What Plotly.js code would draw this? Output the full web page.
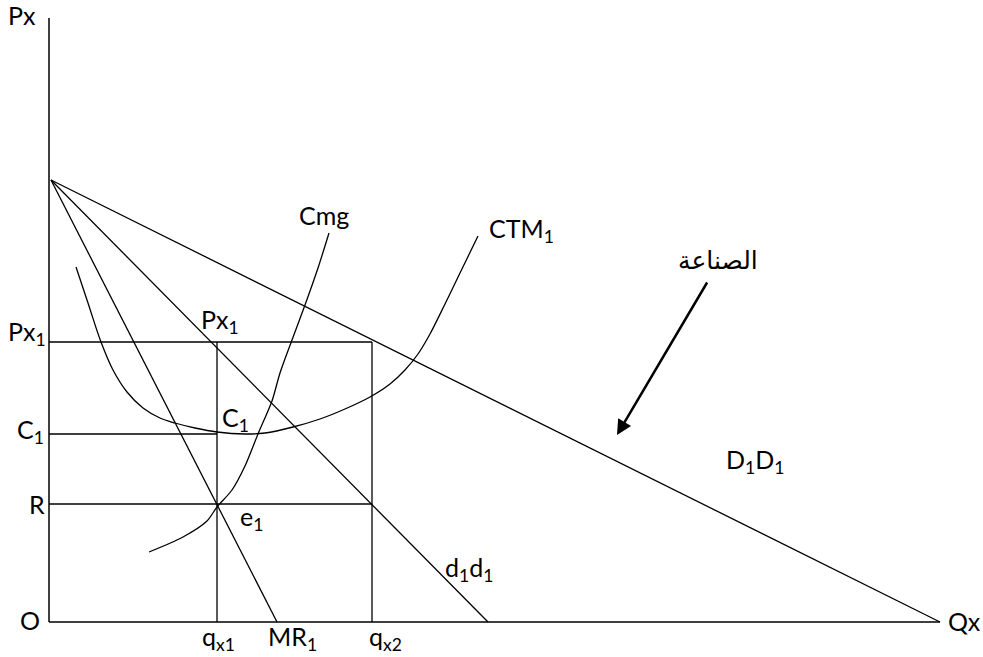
<!DOCTYPE html>
<html>
<head>
<meta charset="utf-8">
<script src="https://cdn.plot.ly/plotly-3.0.1.min.js"></script>
<style>html,body{margin:0;padding:0;background:#fff;}#chart{width:983px;height:657px;}</style>
</head>
<body>
<div id="chart"></div>
<script>
// Diagram coordinates: origin O at (0,0)
const apex = [2, 442];
const demandIndustryEnd = [891, 0];   // D1D1
const demandFirmEnd = [439, 0];       // d1d1
const marginalRevenueEnd = [228, 0];  // MR1
const priceLevels = {Px1: 280, C1: 188, R: 118};
const quantityLevels = {qx1: 168, qx2: 323};
const axisTop = 604;
const axisRight = 891;

const ctmX = [27, 39, 52, 64, 78, 94, 111, 126, 146, 168, 196, 216, 244, 271, 296, 321, 341, 356, 369, 381, 396, 411, 429];
const ctmY = [355, 319, 280, 252, 230, 214, 204, 199, 194, 190, 188, 189, 195, 203, 213, 225, 238, 252, 268, 288, 318, 349, 386];
const cmgX = [100, 134, 158, 168, 183, 196, 209, 223, 231, 243, 256, 269, 280];
const cmgY = [70, 85, 101, 115, 132, 156, 188, 221, 249, 282, 317, 354, 389];

const arrowTail = [659, 341];
const arrowTip = [568, 187];

const labelTexts = ['Px', 'Px<sub>1</sub>', 'C<sub>1</sub>', 'R', 'O', 'q<sub>x1</sub>', 'MR<sub>1</sub>', 'q<sub>x2</sub>', 'Qx',
  'Px<sub>1</sub>', 'C<sub>1</sub>', 'e<sub>1</sub>', 'd<sub>1</sub>d<sub>1</sub>', 'D<sub>1</sub>D<sub>1</sub>', 'الصناعة', 'Cmg', 'CTM<sub>1</sub>'];
const labelX = [-27, -1, -3, -2, -19, 169, 243, 336, 915, 171, 186, 202, 420, 706, 669, 275, 438];
const labelY = [607, 289, 191, 118, 2, -16, -16, -16, 1, 301, 203, 104, 53, 161, 363, 407, 392];
const labelAnchor = ['center', 'right', 'right', 'right', 'center', 'center', 'center', 'center', 'center',
  'center', 'center', 'center', 'center', 'center', 'center', 'center', 'left'];

function seg(xs, ys, w) {
  return {x: xs, y: ys, mode: 'lines', type: 'scatter', hoverinfo: 'skip',
    line: {color: '#000', width: w || 1.3}};
}
const P = priceLevels, Q = quantityLevels;
const traces = [
  seg([0, 0], [axisTop, 0], 1.5),
  seg([0, axisRight], [0, 0], 1.5),
  seg([apex[0], demandIndustryEnd[0]], [apex[1], demandIndustryEnd[1]]),
  seg([apex[0], demandFirmEnd[0]], [apex[1], demandFirmEnd[1]]),
  seg([apex[0], marginalRevenueEnd[0]], [apex[1], marginalRevenueEnd[1]]),
  seg([0, Q.qx2], [P.Px1, P.Px1]),
  seg([0, Q.qx2], [P.R, P.R]),
  seg([0, Q.qx1], [P.C1, P.C1]),
  seg([Q.qx1, Q.qx1], [P.Px1, 0]),
  seg([Q.qx2, Q.qx2], [P.Px1, 0]),
  {x: ctmX, y: ctmY, mode: 'lines', type: 'scatter', hoverinfo: 'skip', line: {color: '#000', width: 1.3, shape: 'spline', smoothing: 1}},
  {x: cmgX, y: cmgY, mode: 'lines', type: 'scatter', hoverinfo: 'skip', line: {color: '#000', width: 1.3, shape: 'spline', smoothing: 0.8}}
];

const annotations = labelTexts.map((t, i) => ({
  x: labelX[i], y: labelY[i], xref: 'x', yref: 'y', text: t, showarrow: false,
  xanchor: labelAnchor[i], yanchor: 'middle',
  font: {family: 'Lato, "DejaVu Sans", sans-serif', size: 25, color: '#000'}
}));
annotations.push({
  x: arrowTip[0], y: arrowTip[1], ax: arrowTail[0], ay: arrowTail[1],
  xref: 'x', yref: 'y', axref: 'x', ayref: 'y', text: '', showarrow: true,
  arrowhead: 2, arrowsize: 1.2, arrowwidth: 2.5, arrowcolor: '#000'
});

const layout = {
  width: 983, height: 657,
  margin: {l: 0, r: 0, t: 0, b: 0, pad: 0},
  paper_bgcolor: '#fff', plot_bgcolor: '#fff',
  showlegend: false,
  xaxis: {range: [-49, 934], visible: false, fixedrange: true},
  yaxis: {range: [-35, 622], visible: false, fixedrange: true},
  annotations: annotations
};
Plotly.newPlot('chart', traces, layout, {staticPlot: true, displayModeBar: false});
</script>
</body>
</html>
